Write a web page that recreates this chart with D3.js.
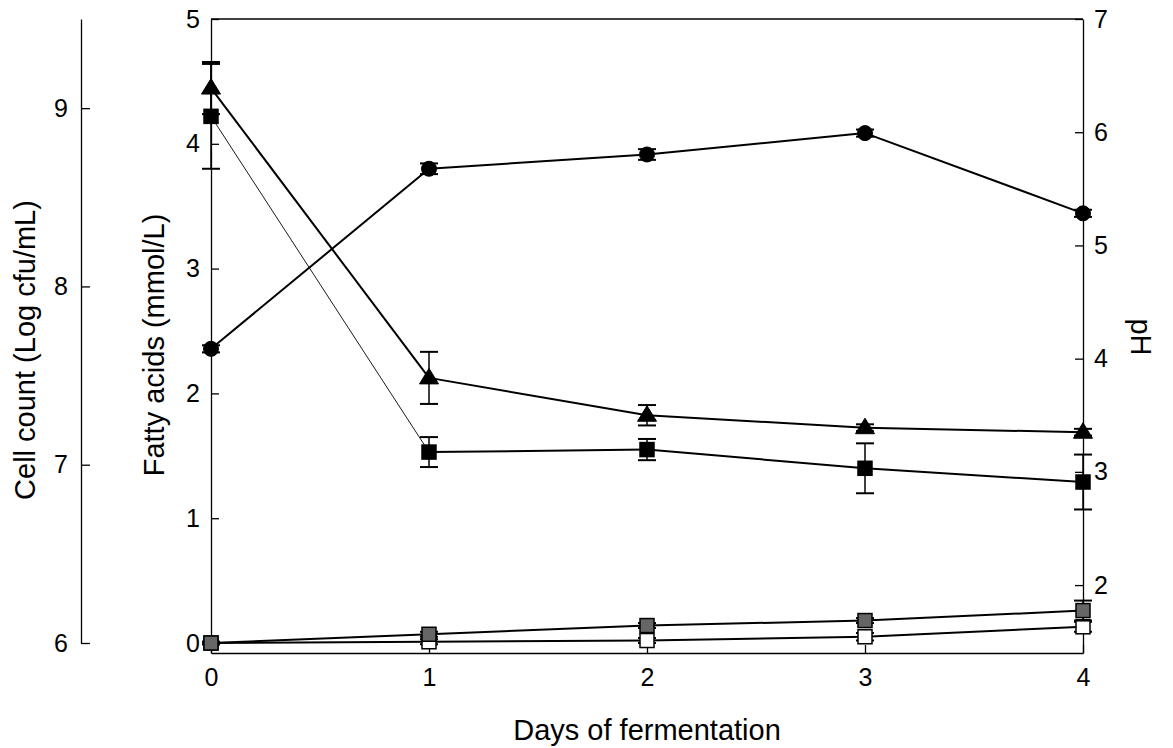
<!DOCTYPE html>
<html><head><meta charset="utf-8">
<script src="https://cdn.jsdelivr.net/npm/d3@7"></script>
<style>
body{margin:0;background:#fff;}
svg text{font-family:"Liberation Sans",Arial,sans-serif;fill:#000;}
</style></head>
<body>
<svg id="c" width="1173" height="748"></svg>
<script>
// ---- data ----
const days = [0, 1, 2, 3, 4];
const xTicks = [0, 1, 2, 3, 4];
const cellTicks = [6, 7, 8, 9];
const fattyTicks = [0, 1, 2, 3, 4, 5];
const pHTicks = [2, 3, 4, 5, 6, 7];

const cellCount = [7.65, 8.66, 8.74, 8.86, 8.41];      // circles
const cellErr   = [0.02, 0.03, 0.03, 0.02, 0.02];
const pHValues  = [6.39, 3.83, 3.50, 3.39, 3.35];      // triangles
const pHErr     = [0.23, 0.23, 0.09, 0.03, 0.03];
const acidBlack = [4.22, 1.53, 1.55, 1.40, 1.29];      // black squares
const acidBlackErr = [0.42, 0.12, 0.085, 0.20, 0.22];
const acidGray  = [0.00, 0.07, 0.14, 0.18, 0.26];      // gray squares
const acidGrayErr = [0.01, 0.02, 0.02, 0.02, 0.08];
const acidWhite = [0.00, 0.01, 0.02, 0.05, 0.13];      // white squares
const acidWhiteErr = [0.01, 0.02, 0.02, 0.03, 0.04];

// ---- scales ----
const svg = d3.select("#c");
const x = d3.scaleLinear().domain([0, 4]).range([211, 1083]);
const yFat = d3.scaleLinear().domain([-0.08, 5]).range([653, 19]);
const yCell = d3.scaleLinear().domain([6, 9.5]).range([643, 19]);
const yPH = d3.scaleLinear().domain([1.4, 7]).range([653, 19]);

const FS = "25px";
const TS = "29px";

// frame top
svg.append("line").attr("x1", x(0)).attr("x2", x(4)).attr("y1", yFat(5)).attr("y2", yFat(5))
  .attr("stroke", "#000").attr("stroke-width", 1.3);

function styleAxis(g) {
  g.selectAll("path,line").attr("stroke", "#000").attr("stroke-width", 1.3);
  g.selectAll("text").attr("font-size", FS).attr("font-family", "Liberation Sans, Arial, sans-serif");
}

// x axis
svg.append("g").attr("transform", `translate(0,653)`)
  .call(d3.axisBottom(x).tickValues(xTicks).tickFormat(d3.format("d")).tickSizeInner(-8).tickSizeOuter(0).tickPadding(15))
  .call(styleAxis);

// fatty acids axis
svg.append("g").attr("transform", `translate(${x(0)},0)`)
  .call(d3.axisLeft(yFat).tickValues(fattyTicks).tickFormat(d3.format("d")).tickSizeInner(-8).tickSizeOuter(0).tickPadding(11))
  .call(styleAxis);

// pH axis
svg.append("g").attr("transform", `translate(${x(4)},0)`)
  .call(d3.axisRight(yPH).tickValues(pHTicks).tickFormat(d3.format("d")).tickSizeInner(-8).tickSizeOuter(0).tickPadding(11))
  .call(styleAxis);

// cell count axis
svg.append("g").attr("transform", `translate(81,0)`)
  .call(d3.axisLeft(yCell).tickValues(cellTicks).tickFormat(d3.format("d")).tickSizeInner(-9).tickSizeOuter(0).tickPadding(13))
  .call(styleAxis);

// axis titles
svg.append("text").attr("transform", "translate(35,350) rotate(-90)").attr("text-anchor", "middle")
  .attr("font-size", TS).text("Cell count (Log cfu/mL)");
svg.append("text").attr("transform", "translate(164,345) rotate(-90)").attr("text-anchor", "middle")
  .attr("font-size", TS).text("Fatty acids (mmol/L)");
svg.append("text").attr("transform", "translate(1131,337) rotate(90)").attr("text-anchor", "middle")
  .attr("font-size", TS).text("pH");
svg.append("text").attr("x", 647).attr("y", 740).attr("text-anchor", "middle")
  .attr("font-size", TS).text("Days of fermentation");

// ---- series ----
function drawSeries(vals, errs, yS, marker, fill, firstThin) {
  const pts = days.map((d, i) => ({ d, v: vals[i], e: errs[i] }));
  const g = svg.append("g");
  for (let i = 0; i < pts.length - 1; i++) {
    g.append("line")
      .attr("x1", x(pts[i].d)).attr("y1", yS(pts[i].v))
      .attr("x2", x(pts[i + 1].d)).attr("y2", yS(pts[i + 1].v))
      .attr("stroke", "#000").attr("stroke-width", (firstThin && i === 0) ? 0.9 : 2);
  }
  pts.forEach(p => {
    const cx = x(p.d), y1 = yS(p.v + p.e), y2 = yS(p.v - p.e);
    g.append("line").attr("x1", cx).attr("x2", cx).attr("y1", y1).attr("y2", y2).attr("stroke", "#000").attr("stroke-width", 1.5);
    [y1, y2].forEach(yy => g.append("line").attr("x1", cx - 9).attr("x2", cx + 9).attr("y1", yy).attr("y2", yy)
      .attr("stroke", "#000").attr("stroke-width", 2));
  });
  pts.forEach(p => {
    const cx = x(p.d), cy = yS(p.v);
    if (marker === "circle") {
      g.append("circle").attr("cx", cx).attr("cy", cy).attr("r", 7.5).attr("fill", fill).attr("stroke", "#000").attr("stroke-width", 1);
    } else if (marker === "triangle") {
      g.append("path").attr("d", `M${cx},${cy - 9.5} L${cx + 9.5},${cy + 6} L${cx - 9.5},${cy + 6} Z`)
        .attr("fill", fill).attr("stroke", "#000").attr("stroke-width", 1);
    } else {
      g.append("rect").attr("x", cx - 7).attr("y", cy - 7).attr("width", 14).attr("height", 14)
        .attr("fill", fill).attr("stroke", "#000").attr("stroke-width", 1.5);
    }
  });
}

drawSeries(acidWhite, acidWhiteErr, yFat, "square", "#ffffff", false);
drawSeries(acidGray, acidGrayErr, yFat, "square", "#666666", false);
drawSeries(acidBlack, acidBlackErr, yFat, "square", "#000000", true);
drawSeries(pHValues, pHErr, yPH, "triangle", "#000000", false);
drawSeries(cellCount, cellErr, yCell, "circle", "#000000", false);
</script>
</body></html>
